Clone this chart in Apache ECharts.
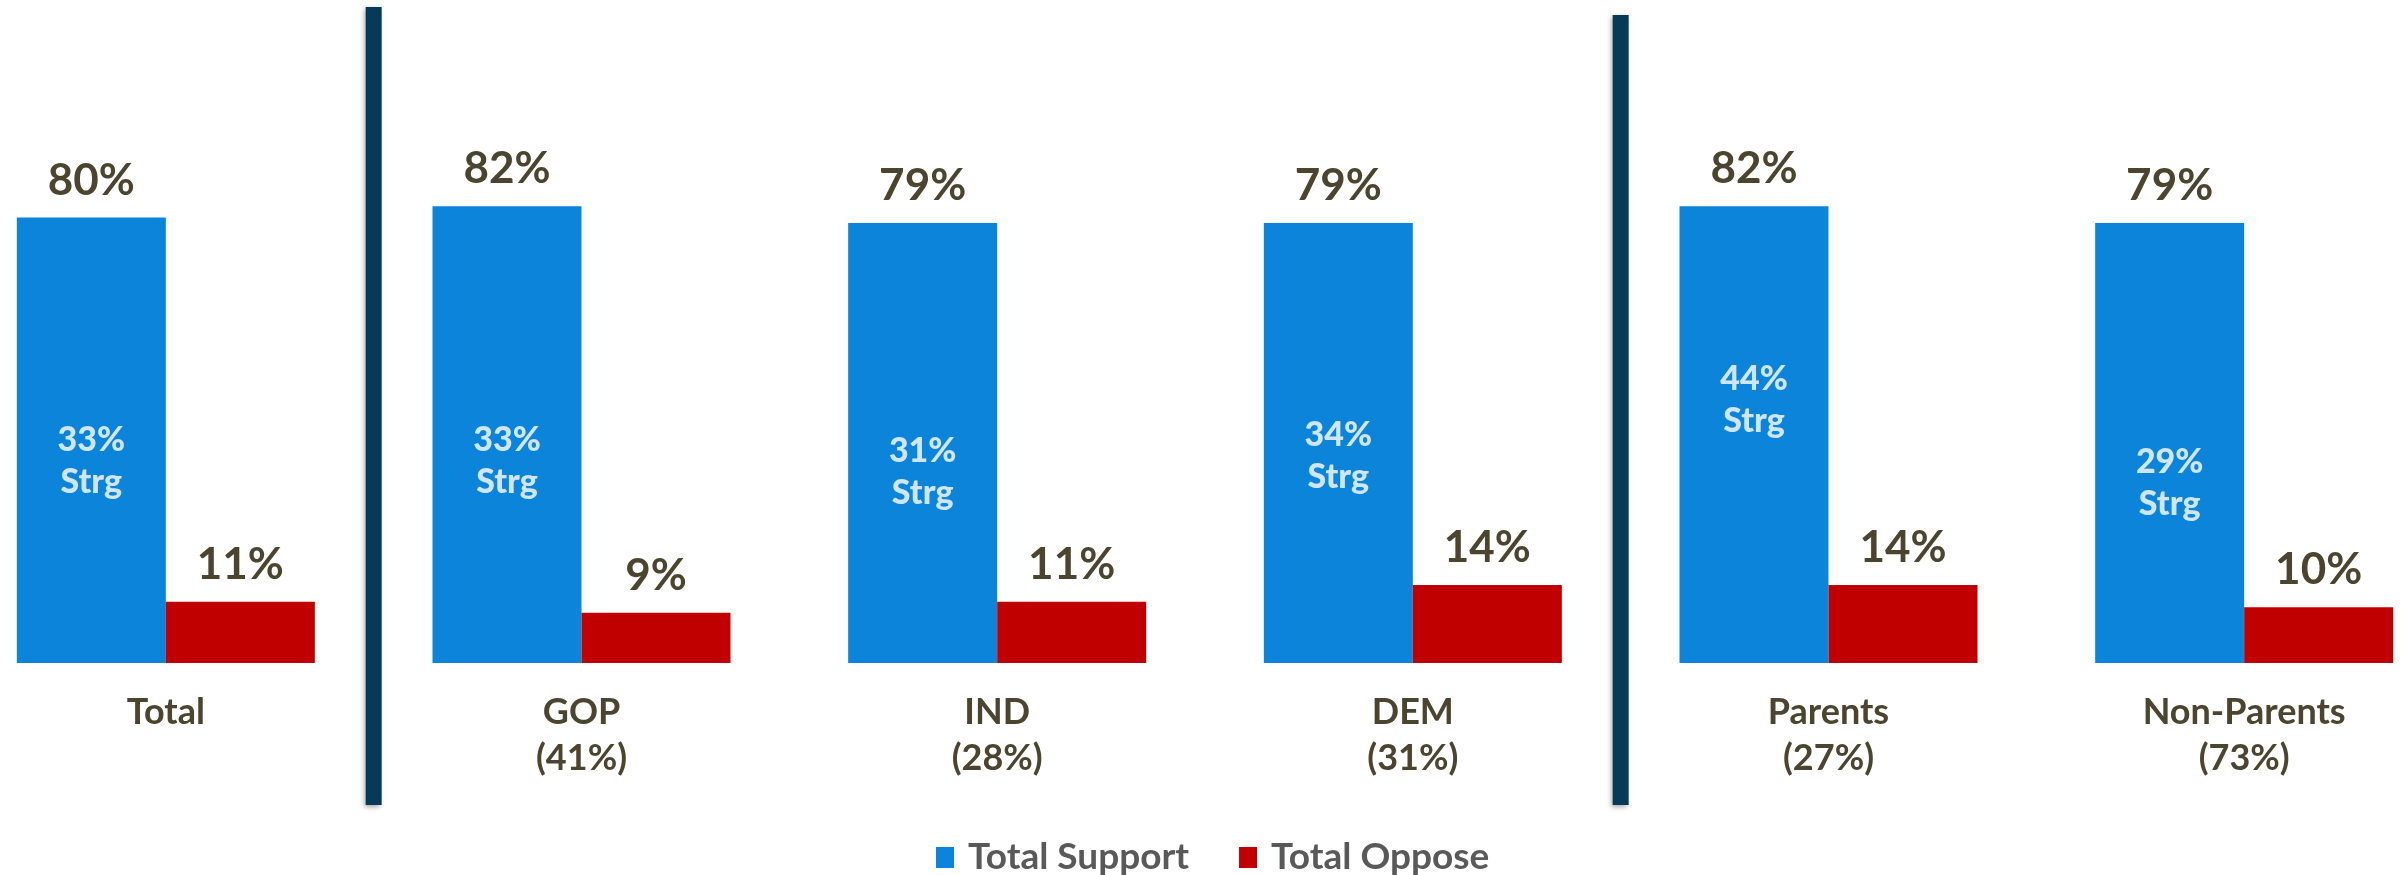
<!DOCTYPE html>
<html><head><meta charset="utf-8">
<script src="https://cdn.jsdelivr.net/npm/echarts@6/dist/echarts.min.js"></script>
<style>html,body{margin:0;padding:0;background:#fff;overflow:hidden;width:2405px;height:875px}#c{width:2494px;height:875px;margin-left:-42px}</style>
</head><body><div id="c"></div>
<script>
const categories = ['Total', 'GOP\n(41%)', 'IND\n(28%)', 'DEM\n(31%)', 'Parents\n(27%)', 'Non-Parents\n(73%)'];
const totalSupport = [80, 82, 79, 79, 82, 79];
const totalOppose = [11, 9, 11, 14, 14, 10];
const strongSupport = [33, 33, 31, 34, 44, 29];
const seriesNames = ['Total Support', 'Total Oppose'];
const dividerAfter = [0, 3];

const FONT = 'Lato, "Noto Sans", sans-serif';
const TXT = '#4b4530';
const BAR_W = 149;
const SHIFT = 42;

const chart = echarts.init(document.getElementById('c'), null, {renderer: 'canvas'});
const option = {
  animation: false,
  backgroundColor: '#ffffff',
  grid: {left: 0, right: 0, top: 106, bottom: 212, containLabel: false},
  legend: {
    data: seriesNames,
    left: 931 + SHIFT, top: 834,
    itemWidth: 18, itemHeight: 21, itemGap: 50,
    icon: 'rect',
    textStyle: {fontFamily: FONT, fontSize: 37, fontWeight: 'bold', color: '#595959', padding: [0, 0, 0, 9]}
  },
  xAxis: {
    type: 'category', data: categories,
    axisLine: {show: false}, axisTick: {show: false},
    axisLabel: {fontFamily: FONT, fontSize: 36, fontWeight: 'bold', color: TXT, lineHeight: 46, margin: 26, interval: 0}
  },
  yAxis: {type: 'value', min: 0, max: 100, show: false, splitLine: {show: false}},
  series: [
    {
      name: seriesNames[0], type: 'bar', data: totalSupport, barWidth: BAR_W, barGap: '0%',
      itemStyle: {color: '#0c84d9'},
      label: {show: true, position: 'top', distance: 15, formatter: '{c}%', fontFamily: FONT, fontSize: 44, fontWeight: 'bold', color: TXT}
    },
    {
      name: seriesNames[1], type: 'bar', data: totalOppose, barWidth: BAR_W, barGap: '0%',
      itemStyle: {color: '#c00000'},
      label: {show: true, position: 'top', distance: 15, formatter: '{c}%', fontFamily: FONT, fontSize: 44, fontWeight: 'bold', color: TXT}
    },
    {
      name: 'Strong', type: 'scatter', data: strongSupport, symbolSize: 0, silent: true,
      z: 5,
      label: {show: true, position: 'inside', offset: [-BAR_W / 2, -18], formatter: p => p.value + '%\nStrg',
        fontFamily: FONT, fontSize: 34, fontWeight: 900, color: '#ffffff', lineHeight: 42, align: 'center'}
    }
  ]
};
chart.setOption(option);

const graphics = dividerAfter.map((i, k) => {
  const a = chart.convertToPixel({xAxisIndex: 0}, categories[i]);
  const b = chart.convertToPixel({xAxisIndex: 0}, categories[i + 1]);
  const x = (a + b) / 2;
  const top = k === 0 ? 7 : 15;
  return {
    type: 'rect', shape: {x: x - 8, y: top, width: 16, height: 805 - top},
    style: {fill: '#073a56', shadowBlur: 5, shadowColor: 'rgba(0,0,0,0.35)', shadowOffsetX: -2, shadowOffsetY: 2},
    z: 10
  };
});
chart.setOption({graphic: graphics});
</script></body></html>
